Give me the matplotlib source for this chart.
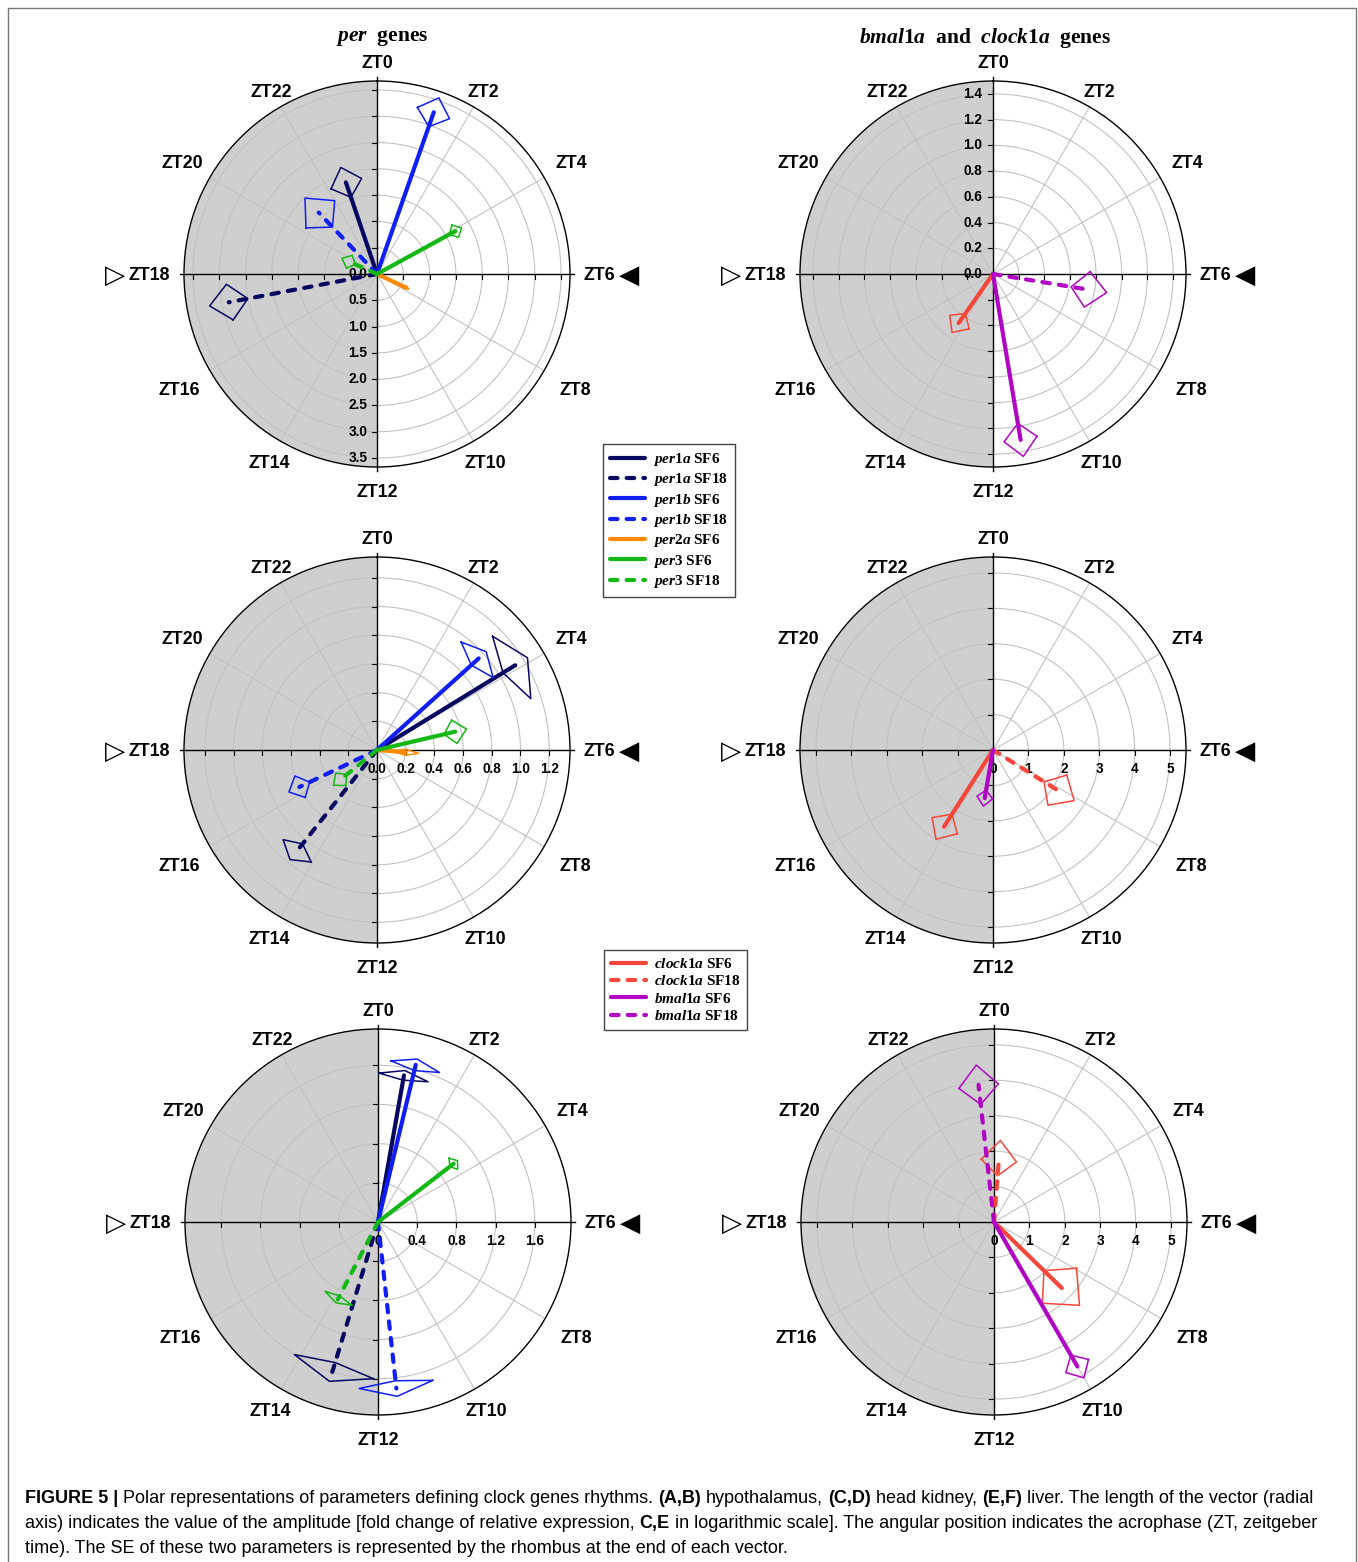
import numpy as np
import matplotlib
matplotlib.use("Agg")
import matplotlib.pyplot as plt
from matplotlib.lines import Line2D
from matplotlib.patches import Rectangle
from matplotlib.font_manager import FontProperties

plt.rcParams["mathtext.fontset"] = "custom"
plt.rcParams["mathtext.it"] = "Liberation Serif:italic:bold"
plt.rcParams["mathtext.rm"] = "Liberation Serif:bold"
plt.rcParams["mathtext.bf"] = "Liberation Serif:bold"

# ----------------------------------------------------------------------
# data: acrophase (ZT h), amplitude, and their SE (rhombus half-sizes)
# ----------------------------------------------------------------------
# (A) hypothalamus, per genes
A_names = ["per1a SF6", "per1a SF18", "per1b SF6", "per1b SF18", "per2a SF6", "per3 SF6", "per3 SF18"]
A_phase = [22.75, 17.28, 1.29, 21.1, 7.68, 4.09, 19.6]
A_amp = [1.84, 2.87, 3.26, 1.61, 0.60, 1.70, 0.59]
A_phase_se = [0.64, 0.46, 0.38, 0.90, 0.20, 0.30, 0.86]
A_amp_se = [0.30, 0.37, 0.29, 0.38, 0.07, 0.13, 0.14]

# (B) hypothalamus, bmal1a / clock1a
B_names = ["clock1a SF6", "bmal1a SF6", "bmal1a SF18"]
B_phase = [14.33, 11.37, 6.62]
B_amp = [0.465, 1.307, 0.755]
B_phase_se = [0.76, 0.38, 0.71]
B_amp_se = [0.09, 0.13, 0.14]

# (C) head kidney, per genes
C_names = ["per1a SF6", "per1a SF18", "per1b SF6", "per1b SF18", "per2a SF6", "per3 SF6", "per3 SF18"]
C_phase = [3.9, 14.56, 3.2, 16.3, 6.3, 5.12, 15.4]
C_amp = [1.13, 0.905, 0.954, 0.60, 0.20, 0.56, 0.33]
C_phase_se = [0.87, 0.53, 0.67, 0.53, 0.40, 0.57, 0.65]
C_amp_se = [0.10, 0.07, 0.07, 0.08, 0.09, 0.08, 0.06]

# (D) head kidney, bmal1a / clock1a
D_names = ["clock1a SF6", "clock1a SF18", "bmal1a SF6"]
D_phase = [14.17, 8.13, 12.65]
D_amp = [2.57, 2.20, 1.38]
D_phase_se = [0.63, 0.88, 0.62]
D_amp_se = [0.42, 0.50, 0.23]

# (E) liver, per genes
E_names = ["per1a SF6", "per1a SF18", "per1b SF6", "per1b SF18", "per3 SF6", "per3 SF18"]
E_phase = [0.67, 13.13, 0.90, 11.58, 3.49, 13.83]
E_amp = [1.52, 1.60, 1.65, 1.71, 0.975, 0.89]
E_phase_se = [0.64, 1.02, 0.59, 0.85, 0.28, 0.66]
E_amp_se = [0.05, 0.10, 0.06, 0.08, 0.05, 0.04]

# (F) liver, bmal1a / clock1a
F_names = ["clock1a SF6", "clock1a SF18", "bmal1a SF6", "bmal1a SF18"]
F_phase = [8.95, 0.30, 10.0, 23.57]
F_amp = [2.67, 1.81, 4.71, 3.90]
F_phase_se = [1.00, 1.07, 0.30, 0.55]
F_amp_se = [0.70, 0.50, 0.37, 0.56]

# radial tick labels
A_ticks = [0.0, 0.5, 1.0, 1.5, 2.0, 2.5, 3.0, 3.5]
B_ticks = [0.0, 0.2, 0.4, 0.6, 0.8, 1.0, 1.2, 1.4]
C_ticks = [0.0, 0.2, 0.4, 0.6, 0.8, 1.0, 1.2]
D_ticks = [0, 1, 2, 3, 4, 5]
E_ticks = [0, 0.4, 0.8, 1.2, 1.6]
F_ticks = [0, 1, 2, 3, 4, 5]
A_tick_labels = ["0.0", "0.5", "1.0", "1.5", "2.0", "2.5", "3.0", "3.5"]
B_tick_labels = ["0.0", "0.2", "0.4", "0.6", "0.8", "1.0", "1.2", "1.4"]
C_tick_labels = ["0.0", "0.2", "0.4", "0.6", "0.8", "1.0", "1.2"]
D_tick_labels = ["0", "1", "2", "3", "4", "5"]
E_tick_labels = ["0", "0.4", "0.8", "1.2", "1.6"]
F_tick_labels = ["0", "1", "2", "3", "4", "5"]

PER_LEGEND = ["per1a SF6", "per1a SF18", "per1b SF6", "per1b SF18", "per2a SF6", "per3 SF6", "per3 SF18"]
CLK_LEGEND = ["clock1a SF6", "clock1a SF18", "bmal1a SF6", "bmal1a SF18"]

# ----------------------------------------------------------------------
# styles
# ----------------------------------------------------------------------
NAVY, BLUE, ORANGE, GREEN = "#070762", "#0f1ef2", "#ff8a00", "#14b814"
RED, PURPLE = "#f4463a", "#b006c4"
STYLE = {
    "per1a SF6": (NAVY, "-"), "per1a SF18": (NAVY, "--"),
    "per1b SF6": (BLUE, "-"), "per1b SF18": (BLUE, "--"),
    "per2a SF6": (ORANGE, "-"),
    "per3 SF6": (GREEN, "-"), "per3 SF18": (GREEN, "--"),
    "clock1a SF6": (RED, "-"), "clock1a SF18": (RED, "--"),
    "bmal1a SF6": (PURPLE, "-"), "bmal1a SF18": (PURPLE, "--"),
}
SHADE = "#cfcfcf"
GRID = "#c2c2c2"
W, H = 1358, 1562
RAD = 193  # polar radius in px
LW = 3.0
DASH = (1.8, 2.2)
ZT_FONT = dict(family="Liberation Sans", fontweight="bold", fontsize=12.8)
TRI_FONT = dict(family="DejaVu Sans", fontsize=19)
TICK_FONT = dict(family="Liberation Sans", fontweight="bold", fontsize=9.8)


def h2rad(h):
    return np.asarray(h, dtype=float) * 2 * np.pi / 24.0


def xy2pol(x, y):
    # clockwise from north
    return np.arctan2(x, y), np.hypot(x, y)


def line_kw(name, lw):
    color, ls = STYLE[name]
    kw = dict(color=color, lw=lw, solid_capstyle="round", dash_capstyle="round")
    if ls == "--":
        kw["dashes"] = DASH
    return kw


def draw_panel(cx, cy, rmax, ring_step, ticks, tick_labels, side,
               names, phase, amp, phase_se, amp_se):
    ax = fig.add_axes([(cx - RAD) / W, (H - cy - RAD) / H, 2 * RAD / W, 2 * RAD / H],
                      projection="polar")
    ax.set_theta_zero_location("N")
    ax.set_theta_direction(-1)
    ax.set_ylim(0, rmax)
    ax.set_xticks([])
    ax.set_yticks([])
    ax.grid(False)
    ax.spines["polar"].set_linewidth(1.0)
    ax.spines["polar"].set_color("black")

    # dark phase
    th = np.linspace(np.pi, 2 * np.pi, 300)
    ax.fill_between(th, 0, rmax, color=SHADE, lw=0, zorder=0)

    # rings + spokes
    rings = np.arange(ring_step, rmax - 1e-6, ring_step)
    full = np.linspace(0, 2 * np.pi, 500)
    for r in rings:
        ax.plot(full, np.full_like(full, r), color=GRID, lw=0.8, zorder=1)
    for h in (2, 4, 8, 10, 14, 16, 20, 22):
        t = h2rad(h)
        ax.plot([t, t], [0, rmax], color=GRID, lw=0.8, zorder=1)

    # black cross with ticks
    ext = rmax * 1.02
    for h in (0, 6):
        t = h2rad(h)
        ax.plot([t, t + np.pi], [ext, ext], color="black", lw=1.0, zorder=2, clip_on=False)
    tk = rmax * 5.0 / RAD
    for r in rings:
        for s in (1, -1):
            t, rr = xy2pol(np.array([s * r, s * r]), np.array([0.0, -tk]))
            ax.plot(t, rr, color="black", lw=0.8, zorder=2)
            t, rr = xy2pol(np.array([0.0, -tk]), np.array([s * r, s * r]))
            ax.plot(t, rr, color="black", lw=0.8, zorder=2)

    # radial tick labels
    for v, lab in zip(ticks, tick_labels):
        if side == "down":
            ax.annotate(lab, xy=(np.pi, v), xytext=(-7, 0), textcoords="offset points",
                        ha="right", va="center", zorder=3, **TICK_FONT)
        elif side == "up":
            ax.annotate(lab, xy=(0, v), xytext=(-8, 0), textcoords="offset points",
                        ha="right", va="center", zorder=3, **TICK_FONT)
        else:
            ax.annotate(lab, xy=(np.pi / 2, v), xytext=(0, -14), textcoords="offset points",
                        ha="center", va="center", zorder=3, **TICK_FONT)

    # ZT labels
    for h in range(0, 24, 2):
        t = h2rad(h)
        if h == 6:
            lab = ax.text(t, rmax * 1.07, "ZT6", ha="left", va="center_baseline", **ZT_FONT)
            ax.annotate("\u25C0", xy=(1, 0.5), xycoords=lab, xytext=(3, 0),
                        textcoords="offset points", ha="left", va="center", **TRI_FONT)
        elif h == 18:
            lab = ax.text(t, rmax * 1.07, "ZT18", ha="right", va="center_baseline", **ZT_FONT)
            ax.annotate("\u25B7", xy=(0, 0.5), xycoords=lab, xytext=(-3, 0),
                        textcoords="offset points", ha="right", va="center", **TRI_FONT)
        else:
            k = 1.10
            if h in (4, 8, 16, 20):
                k += 0.065
            if np.cos(t) < 0:
                k += 0.02
            ax.text(t, rmax * k, f"ZT{h}", ha="center", va="center_baseline", **ZT_FONT)

    # vectors + SE rhombi
    for n, ph, a, dph, da in zip(names, phase, amp, phase_se, amp_se):
        t, dt = h2rad(ph), h2rad(dph)
        ax.plot([t, t], [0, a], zorder=4, **line_kw(n, LW))
        ax.plot([t - dt, t, t + dt, t, t - dt], [a, a + da, a, a - da, a],
                color=STYLE[n][0], lw=1.1, zorder=4)
    return ax


fig = plt.figure(figsize=(W / 100, H / 100), dpi=100)

draw_panel(377, 274, 3.67, 0.5, A_ticks, A_tick_labels, "down",
           A_names, A_phase, A_amp, A_phase_se, A_amp_se)
draw_panel(993, 274, 1.50, 0.2, B_ticks, B_tick_labels, "up",
           B_names, B_phase, B_amp, B_phase_se, B_amp_se)
draw_panel(377, 750, 1.345, 0.2, C_ticks, C_tick_labels, "right",
           C_names, C_phase, C_amp, C_phase_se, C_amp_se)
draw_panel(993, 750, 5.45, 1.0, D_ticks, D_tick_labels, "right",
           D_names, D_phase, D_amp, D_phase_se, D_amp_se)
draw_panel(378, 1222, 1.97, 0.4, E_ticks, E_tick_labels, "right",
           E_names, E_phase, E_amp, E_phase_se, E_amp_se)
draw_panel(994, 1222, 5.45, 1.0, F_ticks, F_tick_labels, "right",
           F_names, F_phase, F_amp, F_phase_se, F_amp_se)

# titles
TITLE_FONT = dict(family="Liberation Serif", fontweight="bold", fontsize=15.5, ha="center", va="center")
fig.text(382 / W, 1 - 38 / H, r"$per$  genes", **TITLE_FONT)
fig.text(985 / W, 1 - 38 / H, r"$bmal1a$  and  $clock1a$  genes", **TITLE_FONT)


# legends
def legend_label(name):
    gene, sf = name.split()
    return rf"${gene}$ {sf}"


leg_prop = FontProperties(family="Liberation Serif", weight="bold", size=11)
for names, (lx, ly) in ((PER_LEGEND, (603, 444)), (CLK_LEGEND, (604, 950))):
    handles = [Line2D([], [], **line_kw(n, LW)) for n in names]
    leg = fig.legend(handles, [legend_label(n) for n in names], loc="upper left",
                     bbox_to_anchor=(lx / W, 1 - ly / H), bbox_transform=fig.transFigure,
                     prop=leg_prop, frameon=True, fancybox=False, framealpha=1,
                     edgecolor="#444444", handlelength=2.3, handletextpad=0.5,
                     labelspacing=0.22, borderpad=0.45, borderaxespad=0)
    leg.get_frame().set_linewidth(1.0)

# overlay: frame + caption
ov = fig.add_axes([0, 0, 1, 1])
ov.set_xlim(0, 1)
ov.set_ylim(0, 1)
ov.axis("off")
ov.add_patch(Rectangle((8 / W, -0.01), 1348 / W, (H - 8) / H + 0.01, fill=False,
                       edgecolor="#777777", lw=1.0, transform=ov.transAxes))

CAP_FS = 13
GAP = 3.6
caption = [
    [("FIGURE 5 |", True), ("Polar representations of parameters defining clock genes rhythms.", False),
     ("(A,B)", True), ("hypothalamus,", False), ("(C,D)", True), ("head kidney,", False),
     ("(E,F)", True), ("liver. The length of the vector (radial", False)],
    [("axis) indicates the value of the amplitude [fold change of relative expression,", False),
     ("C,E", True), ("in logarithmic scale]. The angular position indicates the acrophase (ZT, zeitgeber", False)],
    [("time). The SE of these two parameters is represented by the rhombus at the end of each vector.", False)],
]
for i, pieces in enumerate(caption):
    y = 1507 + 25 * i
    prev = None
    for txt, bold in pieces:
        kw = dict(family="Liberation Sans", fontsize=CAP_FS,
                  fontweight="bold" if bold else "normal", ha="left", va="bottom")
        if prev is None:
            prev = ov.text(25 / W, 1 - y / H, txt, transform=ov.transAxes, **kw)
        else:
            prev = ov.annotate(txt, xy=(1, 0), xycoords=prev, xytext=(GAP, 0),
                               textcoords="offset points", **kw)

fig.savefig("out.png", dpi=100)
